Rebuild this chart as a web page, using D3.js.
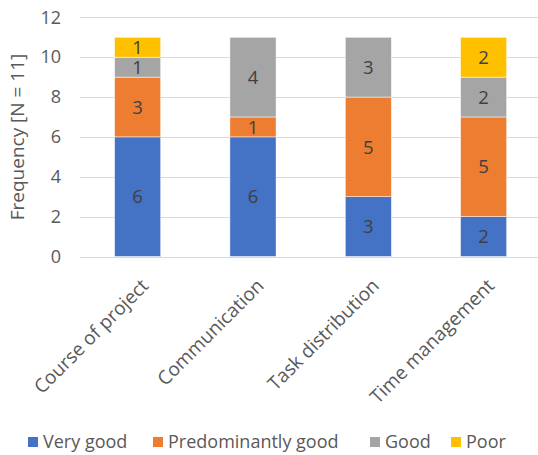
<!DOCTYPE html>
<html><head><meta charset="utf-8">
<script src="https://cdn.jsdelivr.net/npm/d3@7"></script>
<style>
body{margin:0;background:#fff;}
svg{display:block;font-family:"Open Sans",sans-serif;}
</style></head>
<body><svg id="c" width="538" height="455"></svg>
<script>
const categories = ["Course of project","Communication","Task distribution","Time management"];
const seriesNames = ["Very good","Predominantly good","Good","Poor"];
const veryGood = [6,6,3,2];
const predominantlyGood = [3,1,5,5];
const good = [1,4,3,2];
const poor = [1,0,0,2];
const yTicks = [0,2,4,6,8,10,12];
const colors = ["#4472C4","#ED7D31","#A5A5A5","#FFC000"];

const svg = d3.select("#c");
const rows = categories.map((c,i)=>({cat:c, "Very good":veryGood[i], "Predominantly good":predominantlyGood[i], "Good":good[i], "Poor":poor[i]}));
const stack = d3.stack().keys(seriesNames)(rows);

const x = d3.scaleBand().domain(categories).range([80,541.3]).paddingInner(0.6).paddingOuter(0.3);
const y = d3.scaleLinear().domain([0,12]).range([256.5,17.3]);

// gridlines
svg.append("g").selectAll("line").data(yTicks).join("line")
  .attr("x1",80).attr("x2",538).attr("y1",d=>Math.round(y(d))+0.5).attr("y2",d=>Math.round(y(d))+0.5)
  .attr("stroke","#D9D9D9").attr("stroke-width",1);

// y tick labels
svg.append("g").selectAll("text").data(yTicks).join("text")
  .attr("x",61).attr("y",d=>y(d)).attr("dy","0.35em").attr("text-anchor","end")
  .attr("fill","#595959").attr("font-size",18).text(d=>d);

// bars
const g = svg.append("g");
stack.forEach((s,si)=>{
  g.append("g").selectAll("rect").data(s.filter(d=>d[1]-d[0]>0)).join("rect")
    .attr("x",d=>x(d.data.cat)).attr("width",x.bandwidth())
    .attr("y",d=>y(d[1])).attr("height",d=>y(d[0])-y(d[1]))
    .attr("fill",colors[si]).attr("stroke","#fff").attr("stroke-width",0.5);
  g.append("g").selectAll("text").data(s.filter(d=>d[1]-d[0]>0)).join("text")
    .attr("x",d=>x(d.data.cat)+x.bandwidth()/2).attr("y",d=>(y(d[0])+y(d[1]))/2)
    .attr("dy","0.36em").attr("text-anchor","middle").attr("fill","#404040").attr("font-size",18.5)
    .text(d=>d[1]-d[0]);
});

// x labels
svg.append("g").selectAll("text").data(categories).join("text")
  .attr("transform",d=>`translate(${x(d)+x.bandwidth()/2+12},287) rotate(-45)`)
  .attr("text-anchor","end").attr("fill","#595959").attr("font-size",19).text(d=>d);

// y axis title
svg.append("text").attr("transform","translate(24,137) rotate(-90)")
  .attr("text-anchor","middle").attr("fill","#595959").attr("font-size",19).text("Frequency [N = 11]");

// legend
const legendX = [28,153,370,451];
const lg = svg.append("g");
seriesNames.forEach((n,i)=>{
  lg.append("rect").attr("x",legendX[i]).attr("y",437).attr("width",10).attr("height",10).attr("fill",colors[i]);
  lg.append("text").attr("x",legendX[i]+15).attr("y",442).attr("dy","0.35em").attr("fill","#595959").attr("font-size",18).text(n);
});
</script></body></html>
